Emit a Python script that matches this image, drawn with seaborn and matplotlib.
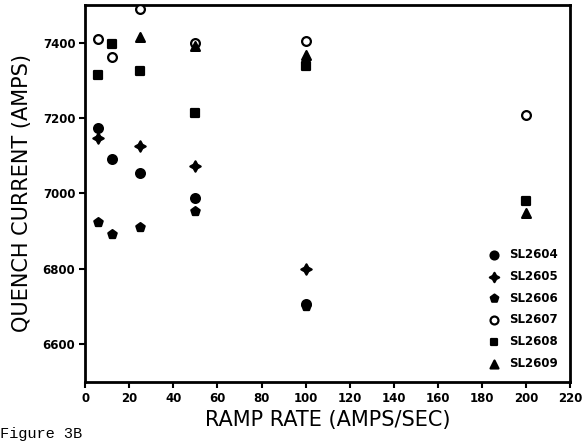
import numpy as np
import pandas as pd
import matplotlib
matplotlib.use("Agg")
import matplotlib.pyplot as plt
import seaborn as sns

# ---------------------------------------------------------------
# DATOS
# ---------------------------------------------------------------
rate_2604 = [6, 12, 25, 50, 100]
curr_2604 = [7173, 7090, 7053, 6987, 6707]

rate_2605 = [6, 25, 50, 100]
curr_2605 = [7147, 7125, 7072, 6800]

rate_2606 = [6, 12, 25, 50, 100]
curr_2606 = [6923, 6893, 6912, 6952, 6700]

rate_2607 = [6, 12, 25, 50, 100, 200]
curr_2607 = [7410, 7362, 7490, 7400, 7403, 7208]

rate_2608 = [6, 12, 25, 50, 100, 200]
curr_2608 = [7315, 7395, 7325, 7213, 7337, 6979]

rate_2609 = [25, 50, 100, 200]
curr_2609 = [7416, 7390, 7368, 6947]

series = ["SL2604", "SL2605", "SL2606", "SL2607", "SL2608", "SL2609"]
rates = [rate_2604, rate_2605, rate_2606, rate_2607, rate_2608, rate_2609]
currents = [curr_2604, curr_2605, curr_2606, curr_2607, curr_2608, curr_2609]

rows = []
for name, xs, ys in zip(series, rates, currents):
    for x, y in zip(xs, ys):
        rows.append({"rate": x, "current": y, "magnet": name})
df = pd.DataFrame(rows)

# ---------------------------------------------------------------
# GRÁFICO
# ---------------------------------------------------------------
sns.set_style("ticks")
plt.rcParams["font.family"] = ["DejaVu Sans"]
plt.rcParams["text.color"] = "black"
plt.rcParams["axes.labelcolor"] = "black"

fig = plt.figure(figsize=(5.83, 4.42), dpi=100)
ax = fig.add_axes([0.146, 0.136, 0.832, 0.853])

markers = {"SL2604": "o", "SL2605": (4, 1, 0), "SL2606": "p",
           "SL2607": "o", "SL2608": "s", "SL2609": "^"}

for name in series:
    sub = df[df["magnet"] == name]
    face = "white" if name == "SL2607" else "black"
    size = 55 if name == "SL2605" else 40
    if name == "SL2608":
        size = 30
    sns.scatterplot(data=sub, x="rate", y="current", marker=markers[name],
                    s=size, color=face, edgecolor="black", linewidth=1.6,
                    label=name, ax=ax, zorder=3)

ax.set_xlim(0, 220)
ax.set_ylim(6500, 7500)
ax.set_xticks(np.arange(0, 221, 20))
ax.set_yticks([6600, 6800, 7000, 7200, 7400])

for sp in ax.spines.values():
    sp.set_visible(True)
    sp.set_linewidth(2.0)
    sp.set_color("black")

ax.tick_params(axis="both", direction="out", length=4, width=1.5,
               labelsize=8.5, colors="black", pad=3)
for lab in ax.get_xticklabels() + ax.get_yticklabels():
    lab.set_fontweight("bold")

ax.set_xlabel("RAMP RATE (AMPS/SEC)", fontsize=15, labelpad=4)
ax.set_ylabel("QUENCH CURRENT (AMPS)", fontsize=15, labelpad=8)

leg = ax.legend(loc="lower right", frameon=False, fontsize=8.5,
                handletextpad=0.3, labelspacing=0.75,
                borderaxespad=0.6, markerscale=0.9)
for t in leg.get_texts():
    t.set_fontweight("bold")
    t.set_color("black")

fig.text(0.0, 0.003, "Figure 3B", family="Liberation Mono", fontsize=11,
         ha="left", va="bottom")

fig.savefig("out.png", dpi=100)
